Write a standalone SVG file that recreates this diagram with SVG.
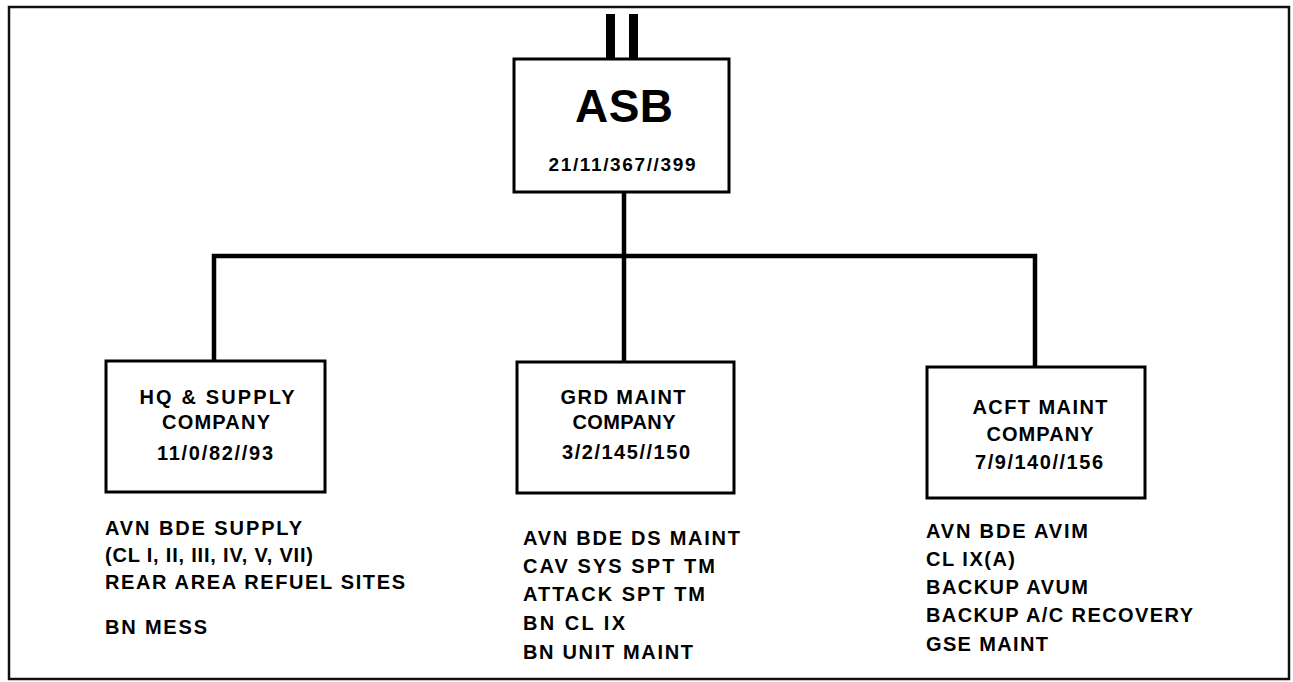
<svg xmlns="http://www.w3.org/2000/svg" width="1293" height="682" viewBox="0 0 1293 682">
<style>
.frame{fill:none;stroke:#111;stroke-width:2.5}
.box{fill:#fff;stroke:#000;stroke-width:3}
.wire{fill:none;stroke:#000;stroke-width:4.5;stroke-linecap:butt}
text{font-family:"Liberation Sans",Arial,sans-serif;font-weight:bold;fill:#000}
.t{font-size:20px}
.c{text-anchor:middle}
</style>
<rect width="1293" height="682" fill="#fff"/>
<rect class="frame" x="9" y="7" width="1280" height="672"/>
<g id="connectors">
<rect x="606" y="14" width="9" height="45" fill="#000"/>
<rect x="629" y="14" width="9" height="45" fill="#000"/>
<line class="wire" x1="624" y1="192" x2="624" y2="362"/>
<polyline class="wire" points="214,361 214,256 1035,256 1035,367"/>
</g>
<g id="asb">
<rect class="box" x="514" y="59" width="215" height="133"/>
<text class="c" x="624" y="122" font-size="46" textLength="98">ASB</text>
<text class="c" x="622" y="171" font-size="19" textLength="147">21/11/367//399</text>
</g>
<g id="hq">
<rect class="box" x="106" y="361" width="219" height="131"/>
<text class="t c" x="217" y="404" textLength="155">HQ &amp; SUPPLY</text>
<text class="t c" x="216" y="429" textLength="108">COMPANY</text>
<text class="t c" x="215" y="460" textLength="116">11/0/82//93</text>
</g>
<g id="hq-list">
<text class="t" x="105" y="535" textLength="197">AVN BDE SUPPLY</text>
<text class="t" x="105" y="562" textLength="208">(CL I, II, III, IV, V, VII)</text>
<text class="t" x="105" y="589" textLength="300">REAR AREA REFUEL SITES</text>
<text class="t" x="105" y="634" textLength="102">BN MESS</text>
</g>
<g id="grd">
<rect class="box" x="517" y="362" width="217" height="131"/>
<text class="t c" x="623" y="404" textLength="125">GRD MAINT</text>
<text class="t c" x="624" y="429" textLength="103">COMPANY</text>
<text class="t c" x="626" y="459" textLength="128">3/2/145//150</text>
</g>
<g id="grd-list">
<text class="t" x="523" y="545" textLength="217">AVN BDE DS MAINT</text>
<text class="t" x="523" y="573" textLength="192">CAV SYS SPT TM</text>
<text class="t" x="523" y="601" textLength="182">ATTACK SPT TM</text>
<text class="t" x="523" y="630" textLength="102">BN CL IX</text>
<text class="t" x="523" y="659" textLength="170">BN UNIT MAINT</text>
</g>
<g id="acft">
<rect class="box" x="927" y="367" width="218" height="131"/>
<text class="t c" x="1040" y="414" textLength="135">ACFT MAINT</text>
<text class="t c" x="1040" y="441" textLength="107">COMPANY</text>
<text class="t c" x="1039" y="469" textLength="128">7/9/140//156</text>
</g>
<g id="acft-list">
<text class="t" x="926" y="538" textLength="162">AVN BDE AVIM</text>
<text class="t" x="926" y="566" textLength="89">CL IX(A)</text>
<text class="t" x="926" y="594" textLength="162">BACKUP AVUM</text>
<text class="t" x="926" y="622" textLength="267">BACKUP A/C RECOVERY</text>
<text class="t" x="926" y="651" textLength="122">GSE MAINT</text>
</g>
</svg>
